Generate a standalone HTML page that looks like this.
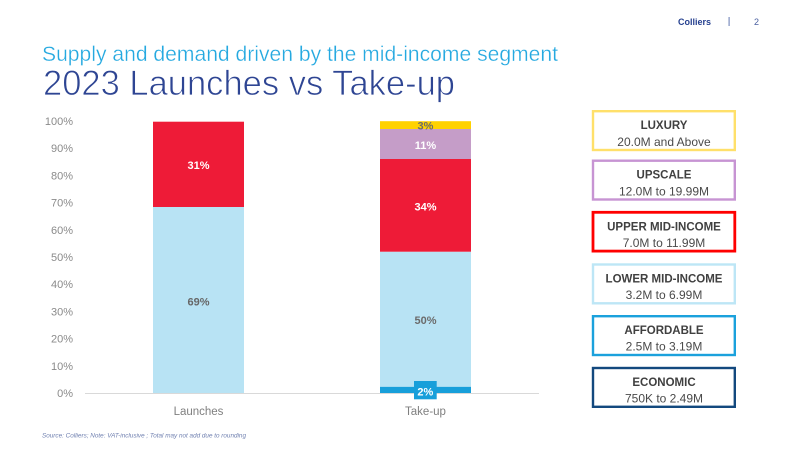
<!DOCTYPE html>
<html>
<head>
<meta charset="utf-8">
<style>
  html,body{margin:0;padding:0;background:#fff;}
  body{width:800px;height:450px;overflow:hidden;}
  svg{display:block;}
  text{font-family:"Liberation Sans", Arial, sans-serif;}
</style>
</head>
<body>
<svg width="800" height="450" viewBox="0 0 800 450" xmlns="http://www.w3.org/2000/svg">
  <rect width="800" height="450" fill="#fff"/>

  <!-- Header -->
  <text x="678" y="25" font-size="9" font-weight="bold" fill="#25408F" textLength="33" lengthAdjust="spacingAndGlyphs">Colliers</text>
  <rect x="728.5" y="17" width="1.2" height="9" fill="#7d8fbf"/>
  <text x="754" y="25" font-size="9" fill="#4a5fa0">2</text>

  <!-- Titles -->
  <text x="42" y="61" font-size="21" fill="#25A9E0" stroke="#ffffff" stroke-width="0.3" textLength="516" lengthAdjust="spacingAndGlyphs">Supply and demand driven by the mid-income segment</text>
  <text x="43" y="95" font-size="35" fill="#2E4593" stroke="#ffffff" stroke-width="0.8" textLength="412" lengthAdjust="spacingAndGlyphs">2023 Launches vs Take-up</text>

  <!-- Y axis labels -->
  <g font-size="11" fill="#8a8a8a" text-anchor="end">
    <text x="73" y="125">100%</text>
    <text x="73" y="152.2">90%</text>
    <text x="73" y="179.4">80%</text>
    <text x="73" y="206.6">70%</text>
    <text x="73" y="233.8">60%</text>
    <text x="73" y="261">50%</text>
    <text x="73" y="288.2">40%</text>
    <text x="73" y="315.4">30%</text>
    <text x="73" y="342.6">20%</text>
    <text x="73" y="369.8">10%</text>
    <text x="73" y="397">0%</text>
  </g>

  <!-- Launches bar -->
  <rect x="153" y="207" width="91" height="186.3" fill="#B8E3F4"/>
  <rect x="153" y="121.7" width="91" height="85.3" fill="#EE1B37"/>

  <!-- Take-up bar -->
  <rect x="380" y="386.7" width="91" height="6.6" fill="#189FDA"/>
  <rect x="380" y="251.7" width="91" height="135" fill="#B8E3F4"/>
  <rect x="380" y="159" width="91" height="92.7" fill="#EE1B37"/>
  <rect x="380" y="129" width="91" height="30" fill="#C59DC8"/>
  <rect x="380" y="121.2" width="91" height="7.8" fill="#FFD200"/>

  <!-- Axis line -->
  <rect x="85" y="393" width="454" height="1" fill="#d9d9d9"/>

  <!-- Bar labels -->
  <g font-size="11" font-weight="bold" text-anchor="middle">
    <text x="198.5" y="169" fill="#ffffff">31%</text>
    <text x="198.5" y="305.5" fill="#666666">69%</text>
    <text x="425.5" y="129.6" fill="#6b6b6b">3%</text>
    <text x="425.5" y="149" fill="#ffffff">11%</text>
    <text x="425.5" y="210.5" fill="#ffffff">34%</text>
    <text x="425.5" y="324" fill="#6b6b6b">50%</text>
  </g>
  <rect x="414" y="381" width="22.7" height="18.3" fill="#189FDA"/>
  <text x="425.3" y="395.6" font-size="11" font-weight="bold" fill="#ffffff" text-anchor="middle">2%</text>

  <!-- Category labels -->
  <g font-size="11.5" fill="#7f7f7f" text-anchor="middle">
    <text x="198.5" y="415">Launches</text>
    <text x="425.5" y="415">Take-up</text>
  </g>

  <!-- Legend boxes -->
  <g fill="none" stroke-width="2.4">
    <rect x="593" y="111.2" width="141.8" height="38.8" stroke="#FFE06A"/>
    <rect x="593" y="160.7" width="141.8" height="38.8" stroke="#C794D3"/>
    <rect x="593" y="212.3" width="141.8" height="38.8" stroke="#FF0000" stroke-width="2.8"/>
    <rect x="593" y="264.5" width="141.8" height="38.8" stroke="#BDE6F6"/>
    <rect x="593" y="316.2" width="141.8" height="38.8" stroke="#1BA1DC"/>
    <rect x="593" y="368" width="141.8" height="38.8" stroke="#13497E"/>
  </g>
  <g text-anchor="middle" fill="#404040">
    <g font-size="11.5" font-weight="bold">
      <text x="664" y="129.2">LUXURY</text>
      <text x="664" y="178.7">UPSCALE</text>
      <text x="664" y="230.7">UPPER MID-INCOME</text>
      <text x="664" y="282.5">LOWER MID-INCOME</text>
      <text x="664" y="334.2">AFFORDABLE</text>
      <text x="664" y="386">ECONOMIC</text>
    </g>
    <g font-size="12" fill="#4a4a4a">
      <text x="664" y="146">20.0M and Above</text>
      <text x="664" y="195.5">12.0M to 19.99M</text>
      <text x="664" y="247">7.0M to 11.99M</text>
      <text x="664" y="299">3.2M to 6.99M</text>
      <text x="664" y="350.7">2.5M to 3.19M</text>
      <text x="664" y="402.5">750K to 2.49M</text>
    </g>
  </g>

  <!-- Footer -->
  <text x="42" y="437.5" font-size="6.8" font-style="italic" fill="#7080b0" textLength="204" lengthAdjust="spacingAndGlyphs">Source: Colliers; Note: VAT-inclusive ; Total may not add due to rounding</text>
</svg>
</body>
</html>
